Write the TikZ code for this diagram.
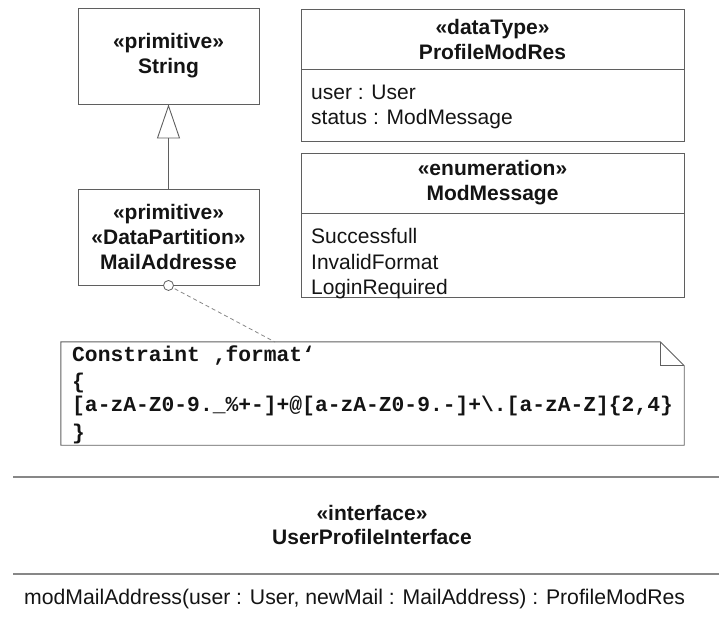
\documentclass[tikz,border=0pt]{standalone}
\usepackage{fontspec}
\setmainfont{Liberation Sans}
\newfontfamily\cmono{Liberation Mono}
\usetikzlibrary{arrows.meta}
\definecolor{linegray}{RGB}{95,95,95}
\definecolor{lightline}{RGB}{135,135,135}
\definecolor{txt}{RGB}{20,20,20}
\tikzset{
  umlbox/.style={draw=linegray, line width=0.9pt, inner sep=0pt, align=center, text=txt,
    font=\fontsize{21}{25}\selectfont\bfseries},
  attr/.style={anchor=base west, inner sep=0pt, text=txt, font=\fontsize{21}{25}\selectfont},
  hdr/.style={inner sep=0pt, align=center, text=txt, font=\fontsize{21}{24}\selectfont\bfseries},
  monotxt/.style={anchor=base west, inner sep=0pt, text=txt, font=\fontsize{21.3}{26}\selectfont\cmono\bfseries},
  uline/.style={draw=linegray, line width=0.9pt},
  ifline/.style={draw=lightline, line width=1.1pt},
  depline/.style={draw=lightline, line width=0.8pt, dash pattern=on 4pt off 3pt},
}
\begin{document}
\begin{tikzpicture}[x=1pt,y=-1pt]
\useasboundingbox (0,0) rectangle (719,624);

% String
\node[umlbox, minimum width=181, minimum height=96] (string) at (168.5,56) {«primitive»\\String};
% MailAddresse
\node[umlbox, minimum width=181, minimum height=96] (mail) at (168.5,237) {«primitive»\\«DataPartition»\\MailAddresse};
\draw[uline, -{Triangle[open, length=34pt, width=23pt]}] (mail.north) -- (string.south);

% ProfileModRes
\node[umlbox, minimum width=383, minimum height=60] (pmrhead) at (492.5,39) {«dataType»\\ProfileModRes};
\node[umlbox, anchor=north, minimum width=383, minimum height=72] (pmrbody) at (pmrhead.south) {};
\node[attr] (pmra1) at (311,99.5) {user : User};
\node[attr] (pmra2) at (311,124.5) {status : ModMessage};

% ModMessage
\node[umlbox, minimum width=383, minimum height=60] (mmhead) at (492.5,183) {«enumeration»\\ModMessage};
\node[umlbox, anchor=north, minimum width=383, minimum height=84] (mmbody) at (mmhead.south) {};
\node[attr] (mml1) at (311,243.5) {Successfull};
\node[attr] (mml2) at (311,269) {InvalidFormat};
\node[attr] (mml3) at (311,294.5) {LoginRequired};

% Note
\node[minimum width=623, minimum height=103, inner sep=0pt] (note) at (372.5,393.5) {};
\draw[uline] (note.north west) -- ([xshift=-24pt]note.north east) -- ([yshift=-24pt]note.north east)
  -- (note.south east) -- (note.south west) -- cycle;
\draw[uline] ([xshift=-24pt]note.north east) |- ([yshift=-24pt]note.north east);
\node[monotxt] (n1) at (72,361) {Constraint ‚format‘};
\node[monotxt] (n2) at (72,388) {\{};
\node[monotxt] (n3) at (72,411) {[a-zA-Z0-9.\_\%+-]+@[a-zA-Z0-9.-]+\textbackslash.[a-zA-Z]\{2,4\}};
\node[monotxt] (n4) at (72,439) {\}};

% anchor link
\coordinate (nt) at (275,342);
\draw[depline] (mail.south) -- (nt);
\node[circle, draw=linegray, fill=white, line width=0.8pt, minimum size=10pt, inner sep=0pt] (lolly) at (mail.south) {};

% Interface
\draw[ifline] (13,477) coordinate (il1) -- (719,477) coordinate (ir1);
\draw[ifline] (13,574) coordinate (il2) -- (719,574) coordinate (ir2);
\node[hdr] (iface) at (372,525) {«interface»\\UserProfileInterface};
\node[attr, font=\fontsize{21.2}{25}\selectfont] (op) at (24,604.5) {modMailAddress(user : User, newMail : MailAddress) : ProfileModRes};
\end{tikzpicture}
\end{document}
